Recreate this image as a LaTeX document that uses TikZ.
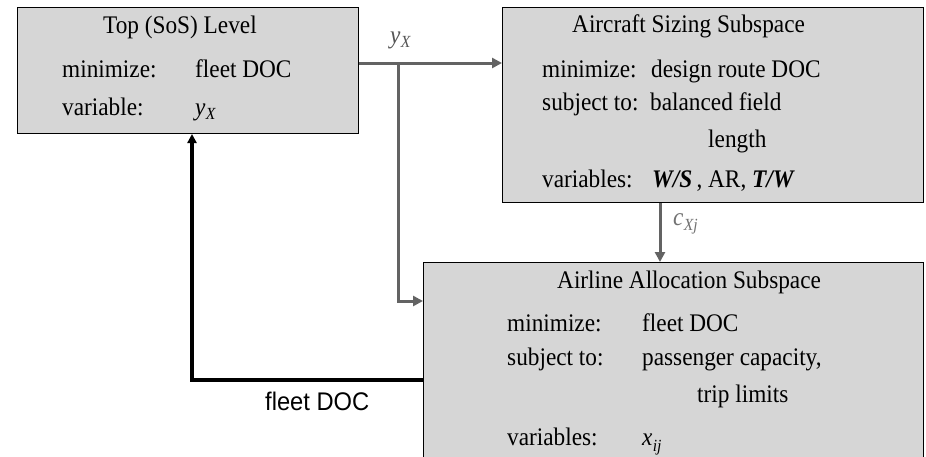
\documentclass[tikz,border=0pt]{standalone}
\usepackage{fontspec}
\setmainfont{Liberation Serif}[FakeStretch=0.92]
\newfontfamily\labsans{Liberation Sans}[FakeStretch=0.93]
\usetikzlibrary{arrows.meta}
\definecolor{boxgray}{HTML}{D6D6D6}
\definecolor{linegray}{HTML}{636363}
\definecolor{labgray}{HTML}{555555}
\definecolor{labgrayb}{HTML}{727272}
\newcommand\vsub[3][-0.35ex]{\textit{#2}\kern0.3pt\raisebox{#1}{\fontsize{17}{17}\selectfont\textit{#3}}}
\begin{document}
\begin{tikzpicture}[x=1pt,y=-1pt,
  box/.style={draw=black, line width=1pt, fill=boxgray, inner sep=0pt, anchor=north west},
  txt/.style={inner sep=0pt, anchor=base west, font=\fontsize{25.3}{30}\selectfont},
  conn/.style={draw=linegray, line width=3pt, -{Triangle[length=10pt,width=10pt]}},
  fbline/.style={draw=black, line width=3.5pt, -{Triangle[length=9pt,width=9pt]}},
  flab/.style={inner sep=0pt, anchor=base west, font=\labsans\fontsize{25.5}{30}\selectfont}]
\clip (0,0) rectangle (926,456);
% boxes
\node[box, minimum width=341pt, minimum height=126pt] (top) at (17,7) {};
\node[box, minimum width=421pt, minimum height=195pt] (acs) at (502,7) {};
\node[box, minimum width=500pt, minimum height=210pt] (aas) at (423,262) {};
% top box text
\node[txt] (t1) at (103,33) {Top (SoS) Level};
\node[txt] (t2) at (62,77) {minimize:};
\node[txt] (t3) at (195,77) {fleet DOC};
\node[txt] (t4) at (62,115) {variable:};
\node[txt] (t5) at (195,115) {\vsub{y}{X}};
% aircraft sizing text
\node[txt] (a1) at (572,32) {Aircraft Sizing Subspace};
\node[txt] (a2) at (542,77) {minimize:};
\node[txt] (a3) at (651,77) {design route DOC};
\node[txt] (a4) at (542,110) {subject to:};
\node[txt] (a5) at (650,110) {balanced field};
\node[txt] (a6) at (708,147) {length};
\node[txt] (a7) at (542,187) {variables:};
\node[txt] (a8) at (652,187) {\textbf{\textit{W/S}}\,, AR, \textbf{\textit{T/W}}};
% airline allocation text
\node[txt] (b1) at (557,288) {Airline Allocation Subspace};
\node[txt] (b2) at (507,331) {minimize:};
\node[txt] (b3) at (642,331) {fleet DOC};
\node[txt] (b4) at (507,365) {subject to:};
\node[txt] (b5) at (642,365) {passenger capacity,};
\node[txt] (b6) at (697,402) {trip limits};
\node[txt] (b7) at (507,445) {variables:};
\node[txt] (b8) at (642,445) {\vsub[-0.6ex]{x}{ij}};
% connector labels
\node[txt, text=labgray] (lyx) at (390,43) {\vsub{y}{X}};
\node[txt, text=labgrayb] (lcx) at (673,225) {\vsub[-0.45ex]{c}{Xj}};
\node[flab] (lfd) at (265,410) {fleet DOC};
% coordinates
\coordinate (yxrow) at (398,63);
\coordinate (aasin) at (423,301);
\coordinate (cxcol) at (660,0);
\coordinate (fbturn) at (192,380);
% connectors
\draw[conn] (top.east |- yxrow) -- (acs.west |- yxrow);
\draw[conn] (yxrow) |- (aas.west |- aasin);
\draw[conn] (acs.south -| cxcol) -- (aas.north -| cxcol);
\draw[fbline] (aas.west |- fbturn) -- (fbturn) -- (top.south -| fbturn);
\end{tikzpicture}
\end{document}
